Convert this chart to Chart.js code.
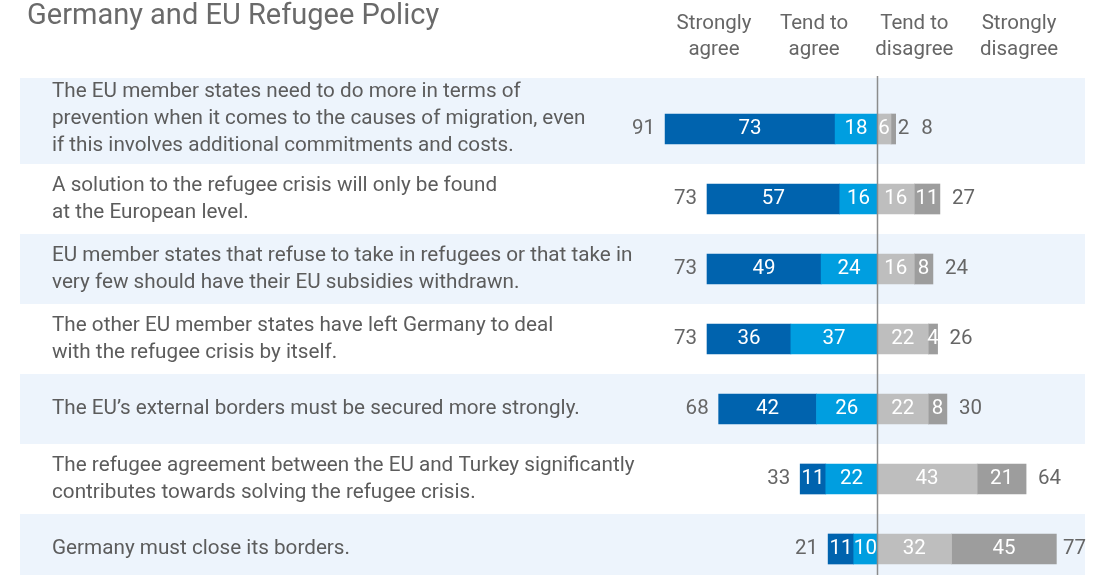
<!DOCTYPE html>
<html>
<head>
<meta charset="utf-8">
<script src="https://cdn.jsdelivr.net/npm/chart.js@4/dist/chart.umd.min.js"></script>
<style>
  html, body { margin: 0; padding: 0; background: #ffffff; overflow: hidden; }
  #wrap { width: 1097px; height: 575px; overflow: hidden; }
  canvas { display: block; }
</style>
</head>
<body>
<div id="wrap"><canvas id="chart" width="1097" height="584"></canvas></div>
<script>
// Survey statements (one entry per row, each split into its printed lines)
const statements = [
  ["The EU member states need to do more in terms of",
   "prevention when it comes to the causes of migration, even",
   "if this involves additional commitments and costs."],
  ["A solution to the refugee crisis will only be found",
   "at the European level."],
  ["EU member states that refuse to take in refugees or that take in",
   "very few should have their EU subsidies withdrawn."],
  ["The other EU member states have left Germany to deal",
   "with the refugee crisis by itself."],
  ["The EU\u2019s external borders must be secured more strongly."],
  ["The refugee agreement between the EU and Turkey significantly",
   "contributes towards solving the refugee crisis."],
  ["Germany must close its borders."]
];

// Shares in percent
const stronglyAgree    = [73, 57, 49, 36, 42, 11, 11];
const tendToAgree      = [18, 16, 24, 37, 26, 22, 10];
const tendToDisagree   = [6, 16, 16, 22, 22, 43, 32];
const stronglyDisagree = [2, 11, 8, 4, 8, 21, 45];

// Printed totals
const agreeTotals    = [91, 73, 73, 73, 68, 33, 21];
const disagreeTotals = [8, 27, 24, 26, 30, 64, 77];

const chartTitle = "Germany and EU Refugee Policy";
const columnHeaders = [["Strongly", "agree"], ["Tend to", "agree"], ["Tend to", "disagree"], ["Strongly", "disagree"]];

// Axis range in percentage points (zero is the dividing line)
const AXIS_MIN = -368;
const AXIS_MAX = 89.3;

const COLORS = {
  darkBlue: "#0063ae",
  lightBlue: "#009ee0",
  lightGrey: "#bebebe",
  darkGrey: "#9d9d9d",
  band: "#edf4fc",
  text: "#666666",
  label: "#5c5c5c",
  divider: "#8c8c8c"
};
const FONT = "Roboto, 'Open Sans', sans-serif";

// Shading, statements, headers and the dividing line
const decorPlugin = {
  id: "decor",
  beforeDatasetsDraw(chart) {
    const { ctx, chartArea, scales } = chart;
    const y = scales.y;
    ctx.save();
    ctx.fillStyle = COLORS.band;
    statements.forEach((lines, i) => {
      if (i % 2 !== 0) return;
      const c = y.getPixelForValue(i);
      const half = 35;
      const top = i === 0 ? chartArea.top - 16 : c - half;
      ctx.fillRect(chartArea.left, top, chartArea.right - chartArea.left, c + half - top);
    });

    // Statement text
    ctx.fillStyle = COLORS.label;
    ctx.font = "20.7px " + FONT;
    ctx.textAlign = "left";
    ctx.textBaseline = "middle";
    const lineH = 27;
    statements.forEach((lines, i) => {
      const c = y.getPixelForValue(i) - (i === 0 ? 10 : 0);
      const start = c - (lines.length - 1) * lineH / 2;
      lines.forEach((ln, k) => ctx.fillText(ln, 52, start + k * lineH));
    });

    // Title
    ctx.fillStyle = "#6a6a6a";
    ctx.font = "29px " + FONT;
    ctx.fillText(chartTitle, 27, 17);

    // Column headers
    const x = scales.x;
    const headerAt = [-70, -27, 16, 61];
    ctx.font = "20.5px " + FONT;
    ctx.textAlign = "center";
    ctx.fillStyle = COLORS.text;
    columnHeaders.forEach((h, i) => {
      const px = x.getPixelForValue(headerAt[i]);
      ctx.fillText(h[0], px, 24);
      ctx.fillText(h[1], px, 50);
    });
    ctx.restore();
  },
  afterDatasetsDraw(chart) {
    const { ctx, chartArea, scales } = chart;
    const x = scales.x;
    const zero = Math.round(x.getPixelForValue(0)) + 0.5;
    ctx.save();
    ctx.strokeStyle = COLORS.divider;
    ctx.lineWidth = 1.5;
    ctx.beginPath();
    ctx.moveTo(zero, chartArea.top - 18);
    ctx.lineTo(zero, chartArea.bottom);
    ctx.stroke();

    // Segment values and totals
    ctx.font = "20.5px " + FONT;
    ctx.textBaseline = "middle";
    const rightEdge = {};
    const leftEdge = {};
    chart.data.datasets.forEach((ds, di) => {
      const meta = chart.getDatasetMeta(di);
      meta.data.forEach((bar, i) => {
        const v = Math.abs(ds.data[i]);
        const w = Math.abs(bar.x - bar.base);
        const lo = Math.min(bar.x, bar.base), hi = Math.max(bar.x, bar.base);
        leftEdge[i] = Math.min(leftEdge[i] ?? Infinity, lo);
        if (w < 6) {
          ctx.fillStyle = COLORS.text;
          ctx.textAlign = "left";
          const start = Math.max(rightEdge[i] ?? hi, hi) + 2;
          ctx.fillText(String(v), start, bar.y);
          rightEdge[i] = start + ctx.measureText(String(v)).width;
        } else {
          ctx.fillStyle = "#ffffff";
          ctx.textAlign = "center";
          ctx.fillText(String(v), (lo + hi) / 2, bar.y);
          rightEdge[i] = Math.max(rightEdge[i] ?? hi, hi);
        }
      });
    });
    const yS = scales.y;
    ctx.fillStyle = COLORS.text;
    agreeTotals.forEach((t, i) => {
      const c = yS.getPixelForValue(i);
      ctx.textAlign = "right";
      ctx.fillText(String(t), leftEdge[i] - 10, c);
      ctx.textAlign = "left";
      const txt = String(disagreeTotals[i]);
      const start = Math.min(rightEdge[i] + 12, chartArea.right + 1 - ctx.measureText(txt).width);
      ctx.fillText(txt, start, c);
    });
    ctx.restore();
  }
};

const barCommon = { stack: "s", barThickness: 30, borderWidth: 0 };

new Chart(document.getElementById("chart"), {
  type: "bar",
  data: {
    labels: statements.map(s => s.join(" ")),
    datasets: [
      { label: "Tend to agree", data: tendToAgree.map(v => -v), backgroundColor: COLORS.lightBlue, ...barCommon },
      { label: "Strongly agree", data: stronglyAgree.map(v => -v), backgroundColor: COLORS.darkBlue, ...barCommon },
      { label: "Tend to disagree", data: tendToDisagree, backgroundColor: COLORS.lightGrey, ...barCommon },
      { label: "Strongly disagree", data: stronglyDisagree, backgroundColor: COLORS.darkGrey, ...barCommon }
    ]
  },
  options: {
    indexAxis: "y",
    responsive: false,
    animation: false,
    devicePixelRatio: 1,
    layout: { padding: { top: 94, bottom: 0, left: 20, right: 12 } },
    scales: {
      x: { type: "linear", stacked: true, min: AXIS_MIN, max: AXIS_MAX, display: false },
      y: { stacked: true, display: false }
    },
    plugins: {
      legend: { display: false },
      tooltip: { enabled: false },
      title: { display: false }
    }
  },
  plugins: [decorPlugin]
});
</script>
</body>
</html>
